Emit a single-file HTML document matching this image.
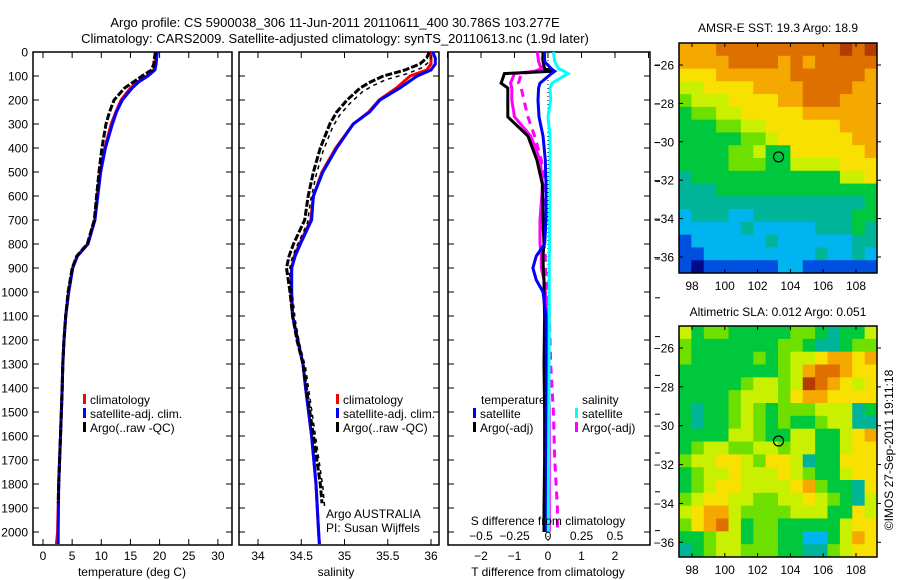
<!DOCTYPE html>
<html><head><meta charset="utf-8">
<style>
html,body{margin:0;padding:0;background:#fff;}
svg{display:block;font-family:"Liberation Sans",sans-serif;}
text{font-size:12px;fill:#000;}
</style></head>
<body>
<svg id="chart" width="900" height="580" viewBox="0 0 900 580" xmlns="http://www.w3.org/2000/svg">
<text x="335" y="27" text-anchor="middle" style="font-size:13px">Argo profile: CS 5900038_306 11-Jun-2011 20110611_400 30.786S 103.277E</text>
<text x="335" y="43" text-anchor="middle" style="font-size:13px">Climatology: CARS2009. Satellite-adjusted climatology: synTS_20110613.nc (1.9d later)</text>
<g id="g"></g>
</svg>
<script>
// ---- profile data ----
const depthsT = [0,25,50,75,100,125,150,200,250,300,400,500,600,700,800,850,900,1000,1100,1200,1300,1400,1600,1800,2000,2050];
const tempClim = [19.4,19.3,19.2,19.0,17.8,16.2,15.0,13.4,12.5,11.7,10.6,9.8,9.3,8.9,7.7,5.9,5.1,4.4,3.9,3.6,3.4,3.3,3.0,2.7,2.5,2.3];
const tempSat  = [19.6,19.5,19.4,19.2,18.0,16.4,15.3,13.6,12.6,11.9,10.7,9.9,9.4,8.9,7.7,5.9,5.1,4.4,3.9,3.6,3.4,3.3,3.0,2.7,2.6,2.6];
const depthsArgo = [0,25,50,75,100,125,150,200,250,300,400,500,600,700,800,850,900,1000,1100,1200,1300,1400,1600,1800,1880];
const tempArgo = [19.3,19.1,19.0,18.6,17.0,15.5,14.0,12.2,11.4,10.8,10.1,9.6,9.2,8.8,7.6,5.8,5.0,4.3,3.9,3.6,3.4,3.3,3.0,2.7,2.6];
const salClim = [35.99,36.0,36.0,35.95,35.76,35.68,35.6,35.40,35.28,35.1,34.9,34.74,34.64,34.61,34.48,34.42,34.39,34.38,34.40,34.46,34.52,34.55,34.62,34.67,34.70,34.71];
const salSat  = [36.02,36.05,36.05,36.0,35.84,35.74,35.64,35.41,35.29,35.1,34.91,34.75,34.64,34.62,34.49,34.43,34.39,34.39,34.40,34.46,34.52,34.55,34.62,34.67,34.70,34.71];
const salArgo = [35.98,35.95,35.87,35.7,35.45,35.3,35.18,35.03,34.91,34.83,34.72,34.64,34.58,34.54,34.41,34.36,34.33,34.37,34.40,34.45,34.52,34.56,34.64,34.72,34.74];
// difference panel
const depthsD = [0,40,70,80,90,130,150,200,270,350,450,550,700,800,850,900,950,1000,1100,1300,1500,1700,1900,2000];
const dTsat  = [-0.1,-0.1,0.1,0.2,0.1,-0.24,-0.28,-0.3,-0.27,-0.15,-0.08,-0.06,-0.06,-0.1,-0.35,-0.45,-0.35,-0.15,-0.06,-0.05,-0.05,-0.05,-0.05,-0.05];
const dTargo = [-0.15,-0.15,-0.1,0.15,-1.3,-1.4,-1.2,-1.2,-1.2,-0.6,-0.33,-0.17,-0.15,-0.12,-0.15,-0.14,-0.12,-0.12,-0.1,-0.12,-0.1,-0.1,-0.12,-0.12];
const dSsat  = [0.04,0.05,0.08,0.12,0.15,0.03,0.015,0.02,0.0,0.015,0.015,0.015,0.012,0.012,0.01,0.01,0.01,0.01,0.01,0.008,0.006,0.004,0.002,0.002];
const dSargo = [-0.08,-0.07,-0.05,-0.1,-0.25,-0.28,-0.27,-0.27,-0.25,-0.13,-0.06,-0.04,-0.06,-0.06,-0.05,-0.05,-0.03,-0.02,-0.01,0.0,0.01,0.01,0.01,0.01];
const dSargoDash = [-0.03,-0.05,-0.04,-0.07,-0.2,-0.22,-0.2,-0.18,-0.15,-0.1,-0.05,-0.03,-0.04,-0.03,-0.02,-0.02,-0.01,0.0,0.01,0.02,0.04,0.05,0.07,0.07];
const depthTicks = [0,100,200,300,400,500,600,700,800,900,1000,1100,1200,1300,1400,1500,1600,1700,1800,1900,2000];
const tempTicks = [0,5,10,15,20,25,30];
const salTicks = [34,34.5,35,35.5,36];
const salTickLabels = ["34","34.5","35","35.5","36"];
const dTTicks = [-2,-1,0,1,2];
const dSTicks = [-0.5,-0.25,0,0.25,0.5];
const dSTickLabels = ["\u22120.5","\u22120.25","0","0.25","0.5"];
// maps (value codes 0..a, rows from north to south)
const sstGrid = [
"8889999999999a9a","8888999989899999","7778888889999998","6677778888999988",
"5666777788999888","4556677777888888","4445566777777888","4444455677777788",
"4444556447777778","4444555446666777","3444444444444667","3334444444444444",
"3333333333333334","2333223333333344","2222232222233343","1222222322222233",
"1122222222232232","1011111122111111"];
const slaGrid = [
"6455444445543446","5444444455433455","5444445456678878","4444444456899877",
"4444456656a98767","4444566657887777","4344565455566634","4344565454456633",
"4444665446644678","4566556656644677","5667765776344777","4566766676544677",
"4567766667854437","5677665566765436","6788655556664476","5789645544444677",
"4456645544224687","3456655544335677"];
const lonTicks = [98,100,102,104,106,108];
const latTicks = [-26,-28,-30,-32,-34,-36];
const argoLon = 103.277, argoLat = -30.786;

const NS="http://www.w3.org/2000/svg";
const g=document.getElementById('g');
function el(tag,attrs,parent){const e=document.createElementNS(NS,tag);for(const k in attrs)e.setAttribute(k,attrs[k]);(parent||g).appendChild(e);return e;}
function txt(s,x,y,anchor,size){const t=el('text',{x:x,y:y,'text-anchor':anchor||'start'});if(size)t.style.fontSize=size+'px';t.textContent=s;return t;}

const yTop=52,yBot=545;
const yD=d=>yTop+d*0.24;

function panel(x0,x1,name){
  const r=el('rect',{x:x0,y:yTop,width:x1-x0,height:yBot-yTop,fill:'none',stroke:'#000','stroke-width':1.5});
  
  
  depthTicks.forEach(d=>{el('line',{x1:x0,x2:x0+6,y1:yD(d),y2:yD(d),stroke:'#000'});el('line',{x1:x1,x2:x1-6,y1:yD(d),y2:yD(d),stroke:'#000'});});
}
function line(xs,ds,xf,color,w,dash,name){
  const pts=xs.map((v,i)=>xf(v).toFixed(1)+','+yD(ds[i]).toFixed(1)).join(' ');
  const p=el('polyline',{points:pts,fill:'none',stroke:color,'stroke-width':w});
  if(dash)p.setAttribute('stroke-dasharray',dash);
  
  
}
depthTicks.forEach(d=>{const t=txt(String(d),28,yD(d)+4.5,'end');
  
  });

// Panel 1 temperature
const xT=t=>43+t*5.83;
panel(33,232,'temperature-panel');
tempTicks.forEach(t=>{el('line',{x1:xT(t),x2:xT(t),y1:yTop,y2:yTop+6,stroke:'#000'});el('line',{x1:xT(t),x2:xT(t),y1:yBot,y2:yBot-6,stroke:'#000'});
  const l=txt(String(t),xT(t),560,'middle');
  
  });
line(tempClim,depthsT,xT,'#f00',3,null,'temp-climatology-line');
line(tempSat,depthsT,xT,'#00f',3,null,'temp-satellite-line');
line(tempArgo,depthsArgo,xT,'#000',3,'7,2','temp-argo-line');
txt('temperature (deg C)',132,576,'middle');

// Panel 2 salinity
const xS=s=>258+(s-34)*86.5;
panel(239,439,'salinity-panel');
salTicks.forEach((s,i)=>{el('line',{x1:xS(s),x2:xS(s),y1:yTop,y2:yTop+6,stroke:'#000'});el('line',{x1:xS(s),x2:xS(s),y1:yBot,y2:yBot-6,stroke:'#000'});
  const l=txt(salTickLabels[i],xS(s),560,'middle');
  
  });
line(salClim,depthsT,xS,'#f00',3,null,'sal-climatology-line');
line(salSat,depthsT,xS,'#00f',3,null,'sal-satellite-line');
line(salArgo,depthsArgo,xS,'#000',3,'7,2','sal-argo-line');
line(salArgo.map(v=>v+0.03),depthsArgo.map(d=>d+15),xS,'#000',1.5,'4,4','sal-argo-raw-line');
txt('salinity',336,576,'middle');
txt('Argo AUSTRALIA',326,518);
txt('PI: Susan Wijffels',326,532);

function legend(x,y,color,label,name){
  const m=el('rect',{x:x,y:y-10,width:3,height:10,fill:color});
  
  
  const t=txt(label,x+7,y);
  
  
}
legend(83,404,'#f00','climatology','legend-temp-climatology');
legend(83,418,'#00f','satellite-adj. clim.','legend-temp-satellite');
legend(83,432,'#000','Argo(..raw -QC)','legend-temp-argo');
legend(336,404,'#f00','climatology','legend-sal-climatology');
legend(336,418,'#00f','satellite-adj. clim.','legend-sal-satellite');
legend(336,432,'#000','Argo(..raw -QC)','legend-sal-argo');

// Panel 3 differences
const xDT=v=>548+v*33.5, xDS=v=>548+v*134;
panel(448,650,'difference-panel');
[-3,-2,-1,0,1,2,3].forEach(t=>{el('line',{x1:xDT(t),x2:xDT(t),y1:yTop,y2:yTop+6,stroke:'#000'});});
el('line',{x1:548,x2:548,y1:yTop,y2:yBot,stroke:'#000','stroke-width':1,'stroke-dasharray':'1,3'});
line(dSargo,depthsD,xDS,'#f0f',3,null,'sal-argo-diff-line');
line(dSargoDash,depthsD,xDS,'#f0f',3,'8,6','sal-argo-adj-diff-line');
line(dTargo,depthsD,xDT,'#000',3,null,'temp-argo-diff-line');
line(dTsat,depthsD,xDT,'#00f',3,null,'temp-satellite-diff-line');
line(dSsat,depthsD,xDS,'#0ff',3,null,'sal-satellite-diff-line');
dTTicks.forEach(t=>{const l=txt(t<0?'\u2212'+(-t):String(t),xDT(t),560,'middle');
  
  });
dSTicks.forEach((s,i)=>{const l=txt(dSTickLabels[i],xDS(s),540,'middle');
  
  });
txt('S difference from climatology',548,525,'middle');
txt('T difference from climatology',548,576,'middle');
txt('temperature',481,404);
txt('salinity',582,404);
legend(473,418,'#00f','satellite','legend-temp-sat-diff');
legend(473,432,'#000','Argo(-adj)','legend-temp-argo-diff');
legend(575,418,'#0ff','satellite','legend-sal-sat-diff');
legend(575,432,'#f0f','Argo(-adj)','legend-sal-argo-diff');
for(let k=0;k<13;k++){const y=65+k*38.8;el('line',{x1:655,x2:660,y1:y,y2:y,stroke:'#000'});}

// Maps
const pal={'0':'#000a8c','1':'#0050e0','2':'#00b4f0','3':'#00b49a','4':'#00c83c','5':'#6ee000','6':'#c8f000','7':'#f8e000','8':'#f4a800','9':'#de7000','a':'#b43c00'};
function map(grid,x0,y0,x1,y1,latRef,latRefY,title,titleY,name){
  const cols=grid[0].length,rows=grid.length,cw=(x1-x0)/cols,ch=(y1-y0)/rows;
  const mg=el('g',{});
  
  
  grid.forEach((row,r)=>{[...row].forEach((c,k)=>{el('rect',{x:(x0+k*cw).toFixed(2),y:(y0+r*ch).toFixed(2),width:(cw+0.5).toFixed(2),height:(ch+0.5).toFixed(2),fill:pal[c]},mg);});});
  el('rect',{x:x0,y:y0,width:x1-x0,height:y1-y0,fill:'none',stroke:'#000','stroke-width':1.5});
  const xL=lon=>692+(lon-98)*16.4, yL=lat=>latRefY+(latRef-lat)*(19.2*(latRefY>300?1.012:1));
  lonTicks.forEach(l=>{el('line',{x1:xL(l),x2:xL(l),y1:y0,y2:y0+4,stroke:'#000'});el('line',{x1:xL(l),x2:xL(l),y1:y1,y2:y1-4,stroke:'#000'});
    const t=txt(String(l),xL(l),y1+17,'middle');
    
    });
  latTicks.forEach(l=>{el('line',{x1:x0,x2:x0+4,y1:yL(l),y2:yL(l),stroke:'#000'});el('line',{x1:x1,x2:x1+4,y1:yL(l),y2:yL(l),stroke:'#000'});
    const t=txt('\u2212'+(-l),674,yL(l)+4.5,'end');
    
    });
  const c=el('circle',{cx:xL(argoLon),cy:yL(argoLat),r:5,fill:'none',stroke:'#000','stroke-width':1.2});
  
  
  const t=txt(title,778,titleY,'middle');
  
  
}
map(sstGrid,679,43,877,273,-26,65,'AMSR-E SST: 19.3 Argo: 18.9',32,'sst-map');
map(slaGrid,679,326,877,557,-26,348,'Altimetric SLA: 0.012 Argo: 0.051',316,'sla-map');
const cr=txt('\u00a9IMOS 27-Sep-2011 19:11:18',0,0,'middle');
cr.setAttribute('transform','translate(893,450) rotate(-90)');


</script>
</body></html>
